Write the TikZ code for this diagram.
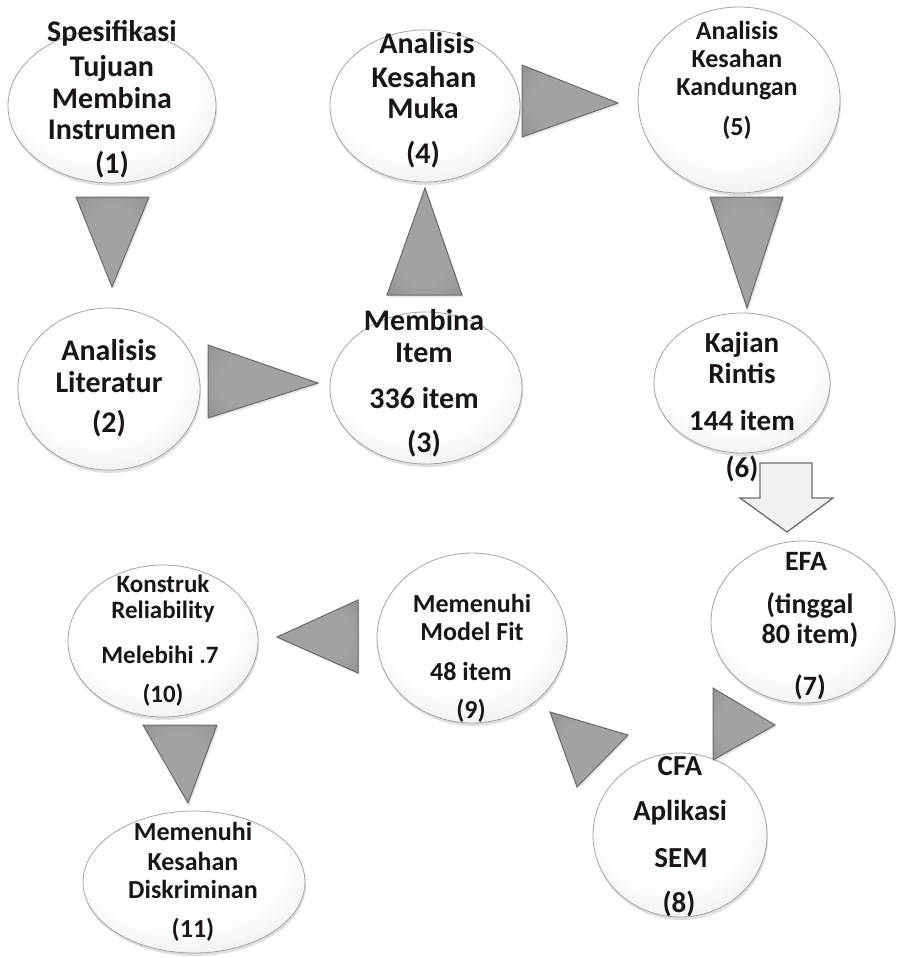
\documentclass[tikz,border=0pt]{standalone}
\usepackage{fontspec}
\setmainfont{Carlito}
\usetikzlibrary{shapes.geometric,shadows}
\definecolor{txt}{HTML}{1A1617}
\definecolor{bubedge}{HTML}{A4A4A4}
\definecolor{bubmid}{HTML}{E6E6E6}
\definecolor{bubout}{HTML}{C2C2C2}
\definecolor{triin}{HTML}{A2A2A2}
\definecolor{triout}{HTML}{848484}
\definecolor{triedge}{HTML}{6A6A6A}
\definecolor{arrfill}{HTML}{F2F2F2}
\definecolor{arredge}{HTML}{6E6E6E}
\pgfdeclareradialshading{bubshade}{\pgfpoint{-4bp}{10bp}}{color(0bp)=(white); color(22bp)=(white); color(38bp)=(bubmid); color(50bp)=(bubout); color(60bp)=(bubout)}
\pgfdeclareradialshading{trishade}{\pgfpoint{0bp}{0bp}}{color(0bp)=(triin); color(20bp)=(triin); color(50bp)=(triout); color(60bp)=(triout)}
\newcommand\txtline[5][]{\node[lbl,#1] (#2) at (#3,#4) {#5};}
\begin{document}
\begin{tikzpicture}[x=1pt,y=-1pt,
  bub/.style={ellipse, draw=bubedge, line width=0.8pt, shading=bubshade,
    drop shadow={opacity=0.25, shadow xshift=1pt, shadow yshift=-3pt}, inner sep=0pt, outer sep=0pt},
  tri/.style={shading=trishade, draw=triedge, line width=1pt, line join=miter,
    drop shadow={opacity=0.2, shadow xshift=1.5pt, shadow yshift=-2pt}},
  blockarr/.style={fill=arrfill, draw=arredge, line width=1.3pt},
  lbl/.style={anchor=base, inner sep=0pt, text=txt, font=\fontsize{30}{36}\selectfont\bfseries},
  f29/.style={font=\fontsize{29}{35}\selectfont\bfseries},
  f27/.style={font=\fontsize{28}{33}\selectfont\bfseries},
  f26/.style={font=\fontsize{26}{31}\selectfont\bfseries},
  f25/.style={font=\fontsize{25}{30}\selectfont\bfseries}]
\useasboundingbox (0,0) rectangle (904,958);
\fill[white] (0,0) rectangle (904,958);

% bubbles
\node[bub, minimum width=208pt, minimum height=154pt] (c1) at (112,106) {};
\node[bub, minimum width=182pt, minimum height=162pt] (c2) at (109,389) {};
\node[bub, minimum width=192pt, minimum height=152pt] (c3) at (426,388) {};
\node[bub, minimum width=190pt, minimum height=152pt] (c4) at (425,106) {};
\node[bub, minimum width=202pt, minimum height=186pt] (c5) at (739,100) {};
\node[bub, minimum width=176pt, minimum height=140pt] (c6) at (742,383) {};
\node[bub, minimum width=184pt, minimum height=162pt] (c7) at (803,622) {};
\node[bub, minimum width=174pt, minimum height=164pt] (c8) at (680,835) {};
\node[bub, minimum width=190pt, minimum height=170pt] (c9) at (472,638) {};
\node[bub, minimum width=190pt, minimum height=152pt] (c10) at (163,641) {};
\node[bub, minimum width=222pt, minimum height=142pt] (c11) at (194,882) {};

% triangular connectors
\path[tri] (76,197) -- (149,197) -- (112,287) -- cycle;
\path[tri] (208,345) -- (208,418) -- (318,383) -- cycle;
\path[tri] (387,295) -- (462,295) -- (425,188) -- cycle;
\path[tri] (522,65) -- (522,137) -- (618,103) -- cycle;
\path[tri] (710,197) -- (783,197) -- (747,308) -- cycle;
\path[tri] (713,688) -- (713,760) -- (775,725) -- cycle;
\path[tri] (550,712) -- (628,735) -- (577,787) -- cycle;
\path[tri] (358,600) -- (358,673) -- (277,637) -- cycle;
\path[tri] (143,725) -- (217,725) -- (188,803) -- cycle;

% block arrow 6 -> 7
\filldraw[blockarr] (760,463) -- (812,463) -- (812,498) -- (833,498) -- (787,532) -- (740,498) -- (760,498) -- cycle;

% texts
\txtline{t1a}{112}{42}{Spesifikasi}
\txtline{t1b}{112}{77}{Tujuan}
\txtline{t1c}{112}{108}{Membina}
\txtline{t1d}{112}{139}{Instrumen}
\txtline{t1e}{112}{173}{(1)}

\txtline{t2a}{109}{360}{Analisis}
\txtline{t2b}{109}{392}{Literatur}
\txtline{t2c}{109}{432}{(2)}

\txtline{t3a}{424}{330}{Membina}
\txtline{t3b}{424}{362}{Item}
\txtline{t3c}{424}{408}{336 item}
\txtline{t3d}{424}{452}{(3)}

\txtline{t4a}{427}{53}{Analisis}
\txtline{t4b}{424}{88}{Kesahan}
\txtline{t4c}{423}{118}{Muka}
\txtline{t4d}{423}{163}{(4)}

\txtline[f26]{t5a}{737}{40}{Analisis}
\txtline[f26]{t5b}{737}{67}{Kesahan}
\txtline[f26]{t5c}{737}{95}{Kandungan}
\txtline[f26]{t5d}{737}{135}{(5)}

\txtline[f29]{t6a}{742}{352}{Kajian}
\txtline[f29]{t6b}{742}{383}{Rintis}
\txtline[f29]{t6c}{742}{430}{144 item}
\txtline[f29]{t6d}{742}{477}{(6)}

\txtline[f27]{t7a}{806}{570}{EFA}
\txtline[f27]{t7b}{810}{613}{(tinggal}
\txtline[f27]{t7c}{810}{643}{80 item)}
\txtline[f27]{t7d}{810}{695}{(7)}

\txtline[f29]{t8a}{680}{775}{CFA}
\txtline[f29]{t8b}{680}{820}{Aplikasi}
\txtline[f29]{t8c}{681}{867}{SEM}
\txtline[f29]{t8d}{679}{912}{(8)}

\txtline[f26]{t9a}{472}{612}{Memenuhi}
\txtline[f26]{t9b}{472}{640}{Model Fit}
\txtline[f26]{t9c}{471}{680}{48 item}
\txtline[f26]{t9d}{471}{718}{(9)}

\txtline[f25]{t10a}{163}{592}{Konstruk}
\txtline[f25]{t10b}{163}{618}{Reliability}
\txtline[f25]{t10c}{160}{663}{Melebihi .7}
\txtline[f25]{t10d}{163}{702}{(10)}

\txtline[f26]{t11a}{193}{840}{Memenuhi}
\txtline[f26]{t11b}{193}{870}{Kesahan}
\txtline[f26]{t11c}{193}{898}{Diskriminan}
\txtline[f26]{t11d}{193}{937}{(11)}
\end{tikzpicture}
\end{document}
